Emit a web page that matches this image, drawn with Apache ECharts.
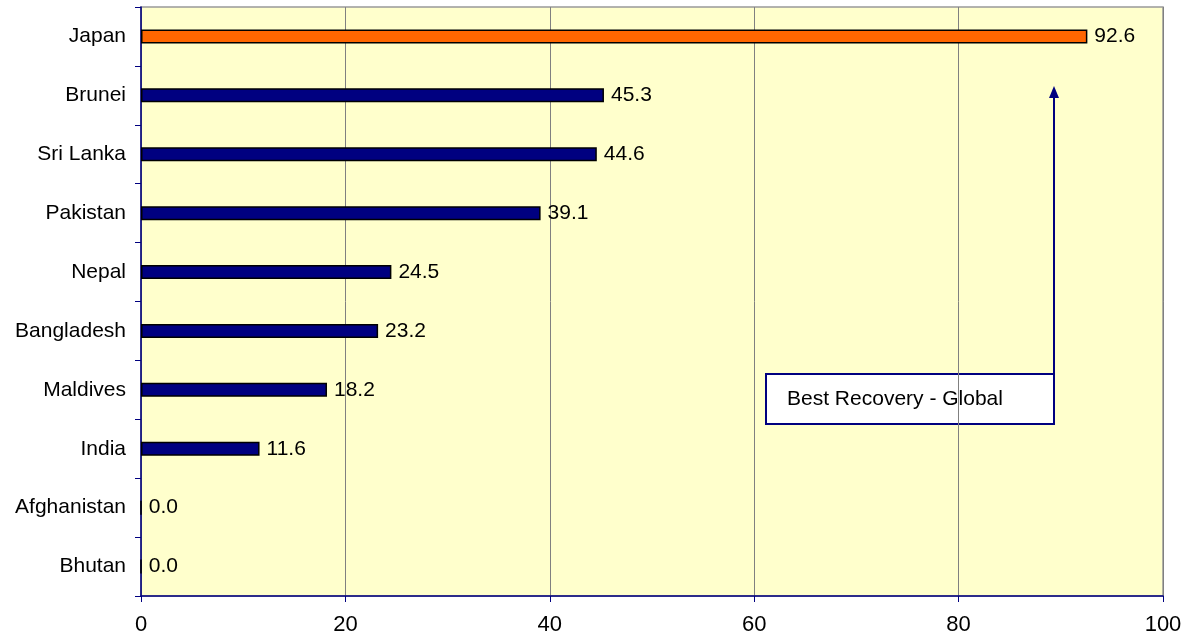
<!DOCTYPE html>
<html><head><meta charset="utf-8">
<script src="https://cdn.jsdelivr.net/npm/echarts@6/dist/echarts.min.js"></script>
<style>html,body{margin:0;padding:0;background:#fff}#c{width:1190px;height:641px}</style>
</head><body><div id="c"></div>
<script>
const categories = ['Japan','Brunei','Sri Lanka','Pakistan','Nepal','Bangladesh','Maldives','India','Afghanistan','Bhutan'];
const values = [92.6,45.3,44.6,39.1,24.5,23.2,18.2,11.6,0.0,0.0];
const xTicks = [0,20,40,60,80,100];
const annotationText = 'Best Recovery - Global';
const FONT = '"Liberation Sans", Arial, Helvetica, sans-serif';
const chart = echarts.init(document.getElementById('c'));
chart.setOption({
  animation:false,
  textStyle:{fontFamily:FONT},
  grid:{left:141,right:27,top:7,bottom:45,show:true,backgroundColor:'#FFFFCC',borderColor:'#999',borderWidth:1.5},
  xAxis:{type:'value',min:xTicks[0],max:xTicks[xTicks.length-1],interval:20,
    axisLine:{show:true,lineStyle:{color:'#000080',width:1.5}},
    axisTick:{show:true,length:6,lineStyle:{color:'#000080'}},
    axisLabel:{color:'#000',fontSize:22,margin:18,fontFamily:FONT},
    splitLine:{show:true,lineStyle:{color:'#808080',width:1}}},
  yAxis:{type:'category',data:categories,inverse:true,
    axisLine:{show:true,lineStyle:{color:'#000080',width:1.5}},
    axisTick:{show:true,length:6,lineStyle:{color:'#000080'}},
    axisLabel:{color:'#000',fontSize:21,margin:15,fontFamily:FONT},
    splitLine:{show:false}},
  series:[{type:'bar',data:values.map((v,i)=>({value:v,itemStyle:{color:i===0?'#FF6600':'#000080'}})),
    barWidth:14,itemStyle:{borderColor:'#000',borderWidth:1.5},
    label:{show:true,position:'right',distance:7,color:'#000',fontSize:21,fontFamily:FONT,formatter:p=>p.value.toFixed(1)}}],
  graphic:[
    {type:'line',shape:{x1:1054,y1:374,x2:1054,y2:96},style:{stroke:'#000080',lineWidth:2}},
    {type:'polygon',shape:{points:[[1054,86],[1049,98],[1059,98]]},style:{fill:'#000080'}},
    {type:'rect',shape:{x:766,y:374,width:288,height:50},style:{fill:'#fff',stroke:'#000080',lineWidth:2}},
    {type:'text',x:787,y:399,style:{text:annotationText,font:'21px '+FONT,fill:'#000',textVerticalAlign:'middle'}}
  ]
});
</script></body></html>
